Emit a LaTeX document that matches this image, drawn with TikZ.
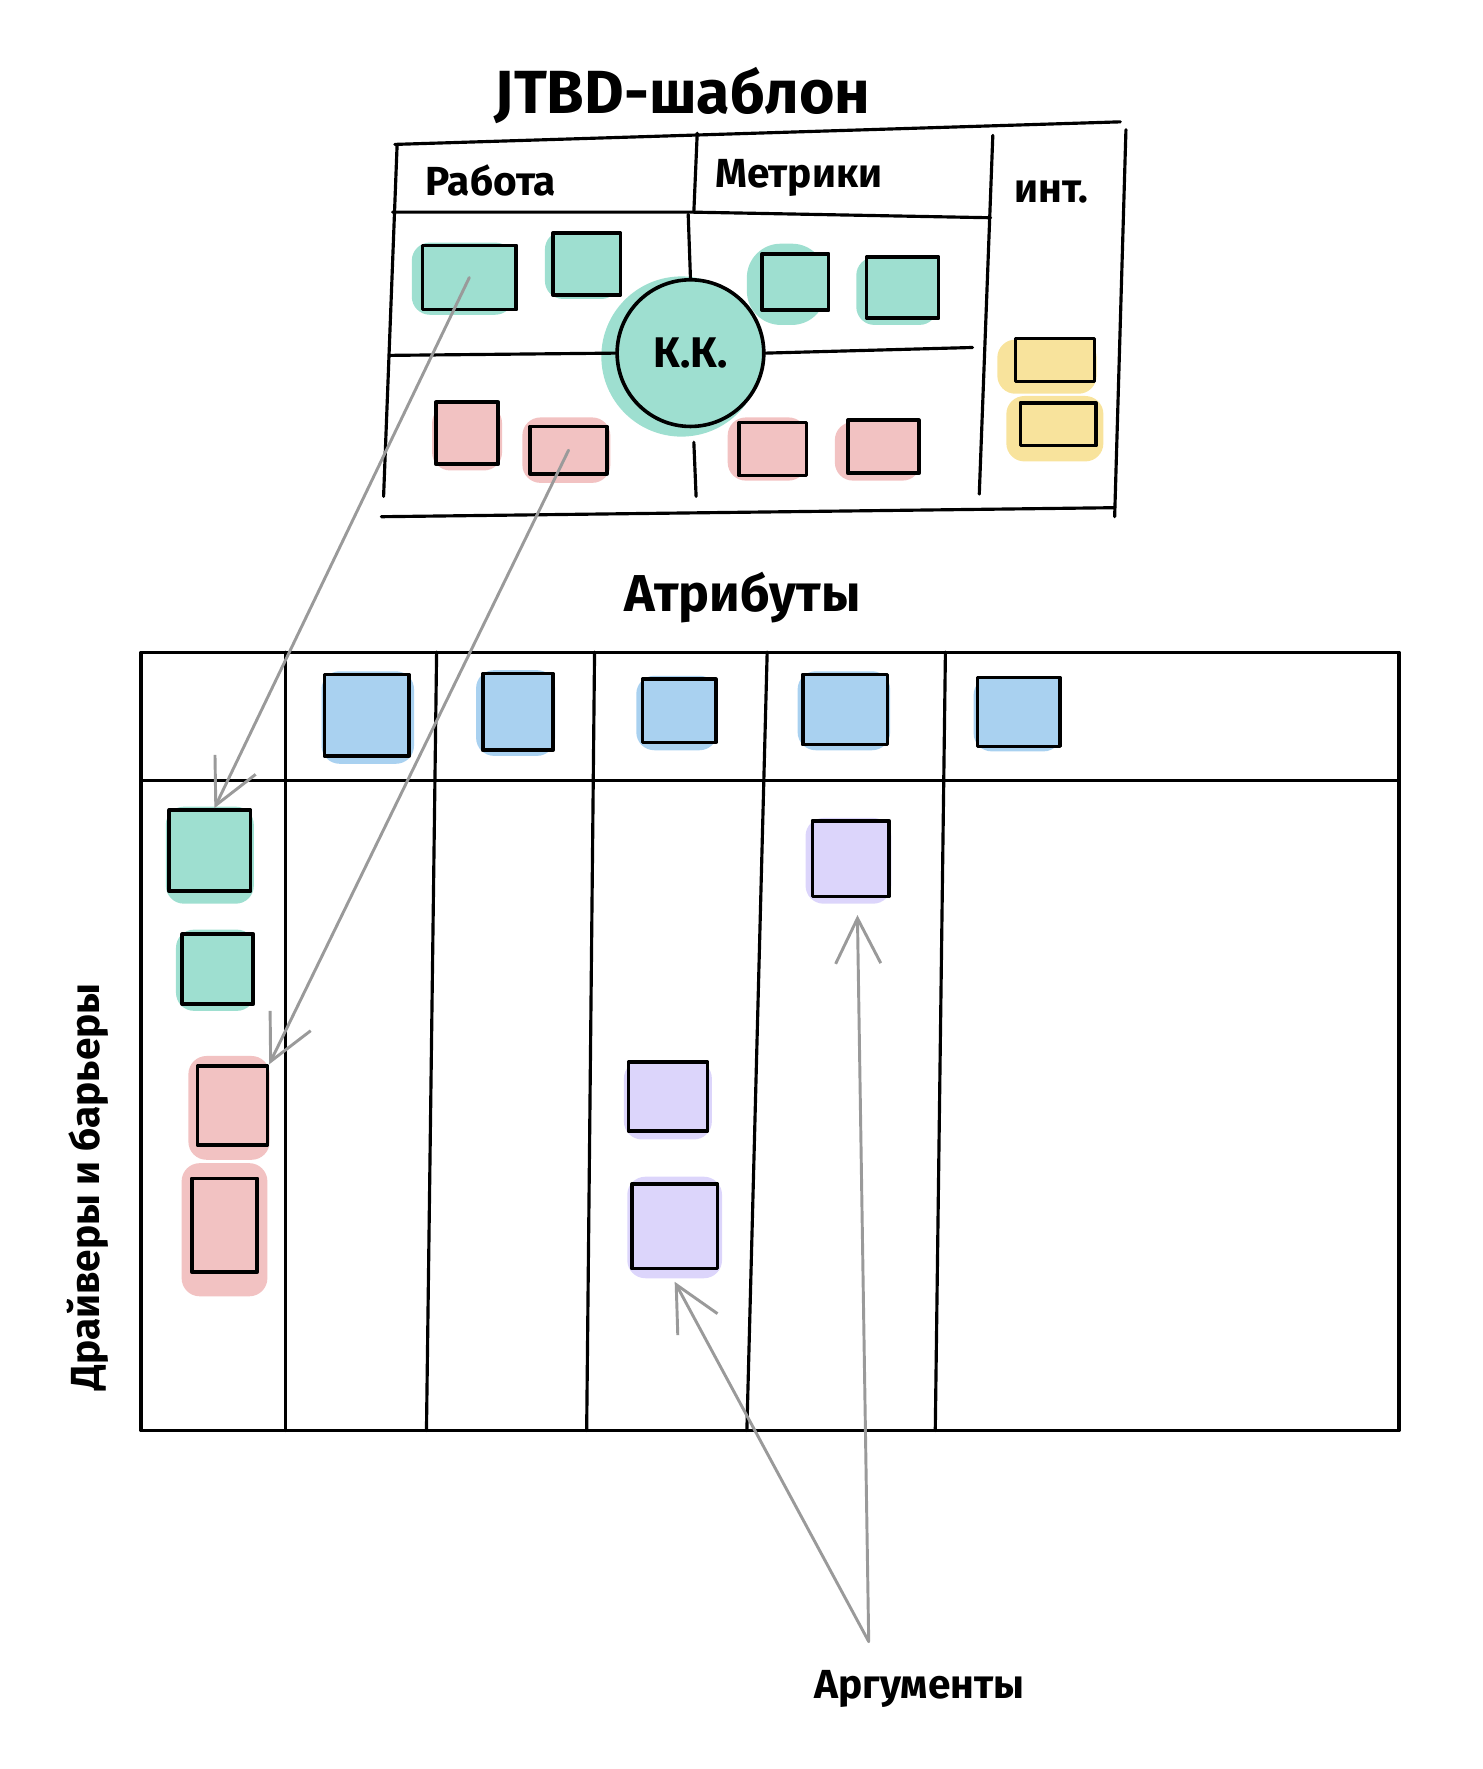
\documentclass[tikz,border=0pt]{standalone}
\usepackage{fontspec}
\setmainfont{Fira Sans}
\usetikzlibrary{arrows.meta}
\definecolor{jteal}{HTML}{9EDFD0}
\definecolor{jred}{HTML}{F2C2C2}
\definecolor{jblue}{HTML}{A9D1F0}
\definecolor{jviolet}{HTML}{DCD5FB}
\definecolor{jyellow}{HTML}{F8E39C}
\definecolor{jgray}{HTML}{9A9A9A}

\begin{document}
\begin{tikzpicture}[x=1pt,y=-1pt,line cap=round,line join=round]
\tikzstyle{blob}=[rounded corners=16pt,inner sep=0pt]
\tikzstyle{note}=[draw=black,line width=3.2pt,inner sep=0pt]
\tikzstyle{frame}=[line width=2.8pt]
\tikzstyle{pointer}=[draw=jgray,line width=2.6pt,-{Straight Barb[length=40pt,width=40pt]}]
\tikzstyle{hand}=[inner sep=0pt]
\useasboundingbox (0,0) rectangle (1314,1568);

\node[hand,font=\fontsize{54}{60}\bfseries] (title) at (605,85) {JTBD-шаблон};
\node[hand,font=\fontsize{36}{40}\bfseries] (job) at (435,160) {Работа};
\node[hand,font=\fontsize{36}{40}\bfseries] (metrics) at (708,158) {Метрики};
\node[hand,font=\fontsize{36}{40}\bfseries] (int) at (932,170) {инт.};

\draw[frame] (350,128) -- (993,108);
\draw[frame] (998,115) -- (988,458);
\draw[frame] (338,458) -- (988,450);
\draw[frame] (352,128) -- (340,440);
\draw[frame] (348,188) -- (612,188) -- (878,193);
\draw[frame] (618,118) -- (615,188);
\draw[frame] (880,120) -- (868,438);

\node[blob,fill=jteal,circle,minimum size=142] at (604,316) {};
\node[circle,draw,line width=3.2pt,fill=jteal,minimum size=130,
  font=\fontsize{38}{42}\bfseries] (kk) at (612,313) {К.К.};
\draw[frame] (345,315) -- (kk.west);
\draw[frame] (kk.east) -- (862,308);
\draw[frame] (610,190) -- (kk.north);
\draw[frame] (615,392) -- (617,440);

\node[blob,fill=jteal,minimum width=90,minimum height=64] at (410,247) {};
\node[note,fill=jteal,minimum width=83,minimum height=57] (w1) at (416,246) {};
\node[blob,fill=jteal,minimum width=66,minimum height=60] at (516,235) {};
\node[note,fill=jteal,minimum width=60,minimum height=55] (w2) at (520,234) {};
\node[blob,fill=jteal,minimum width=70,minimum height=72,rounded corners=30pt] at (697,252) {};
\node[note,fill=jteal,minimum width=59,minimum height=50] (m1) at (705,250) {};
\node[blob,fill=jteal,minimum width=72,minimum height=60] at (795,258) {};
\node[note,fill=jteal,minimum width=64,minimum height=54] (m2) at (800,255) {};

\node[blob,fill=jred,minimum width=62,minimum height=58] at (414,388) {};
\node[note,fill=jred,minimum width=55,minimum height=55] (r1) at (414,384) {};
\node[blob,fill=jred,minimum width=78,minimum height=58] at (502,399) {};
\node[note,fill=jred,minimum width=68,minimum height=42] (r2) at (504,399) {};
\node[blob,fill=jred,minimum width=70,minimum height=56] at (680,398) {};
\node[note,fill=jred,minimum width=60,minimum height=47] (r3) at (685,398) {};
\node[blob,fill=jred,minimum width=76,minimum height=52] at (778,400) {};
\node[note,fill=jred,minimum width=63,minimum height=47] (r4) at (783,396) {};

\node[blob,fill=jyellow,minimum width=88,minimum height=48] at (928,325) {};
\node[note,fill=jyellow,minimum width=70,minimum height=38] (y1) at (935,319) {};
\node[blob,fill=jyellow,minimum width=86,minimum height=58] at (935,380) {};
\node[note,fill=jyellow,minimum width=67,minimum height=38] (y2) at (938,376) {};

\node[hand,font=\fontsize{46}{52}\bfseries] (attrs) at (658,530) {Атрибуты};
\draw[frame] (125,578) rectangle (1240,1268);
\draw[frame] (125,692) -- (1240,692);
\draw[frame] (253,578) -- (253,1268);
\draw[frame] (387,578) -- (378,1268);
\draw[frame] (527,578) -- (520,1268);
\draw[frame] (680,578) -- (662,1268);
\draw[frame] (838,578) -- (829,1268);

\node[blob,fill=jblue,minimum width=82,minimum height=82] at (326,636) {};
\node[note,fill=jblue,minimum width=75,minimum height=72] (a1) at (325,634) {};
\node[blob,fill=jblue,minimum width=70,minimum height=76] at (457,632) {};
\node[note,fill=jblue,minimum width=62,minimum height=68] (a2) at (459,631) {};
\node[blob,fill=jblue,minimum width=72,minimum height=66] at (600,632) {};
\node[note,fill=jblue,minimum width=65,minimum height=56] (a3) at (602,630) {};
\node[blob,fill=jblue,minimum width=82,minimum height=70] at (748,630) {};
\node[note,fill=jblue,minimum width=75,minimum height=62] (a4) at (749,629) {};
\node[blob,fill=jblue,minimum width=78,minimum height=66] at (902,633) {};
\node[note,fill=jblue,minimum width=73,minimum height=61] (a5) at (903,631) {};

\node[blob,fill=jteal,minimum width=78,minimum height=86] at (186,758) {};
\node[note,fill=jteal,minimum width=72,minimum height=72] (d1) at (186,754) {};
\node[blob,fill=jteal,minimum width=70,minimum height=72] at (191,860) {};
\node[note,fill=jteal,minimum width=63,minimum height=62] (d2) at (193,859) {};
\node[blob,fill=jred,minimum width=72,minimum height=92] at (203,982) {};
\node[note,fill=jred,minimum width=62,minimum height=70] (b1) at (206,980) {};
\node[blob,fill=jred,minimum width=76,minimum height=118] at (199,1090) {};
\node[note,fill=jred,minimum width=58,minimum height=83] (b2) at (199,1086) {};

\node[blob,fill=jviolet,minimum width=76,minimum height=76] at (752,763) {};
\node[note,fill=jviolet,minimum width=68,minimum height=67] (p1) at (754,761) {};
\node[blob,fill=jviolet,minimum width=78,minimum height=70] at (592,975) {};
\node[note,fill=jviolet,minimum width=70,minimum height=61] (p2) at (592,972) {};
\node[blob,fill=jviolet,minimum width=84,minimum height=90] at (598,1088) {};
\node[note,fill=jviolet,minimum width=76,minimum height=75] (p3) at (598,1087) {};

\node[hand,rotate=90,font=\fontsize{36}{42}\bfseries] (drivers) at (78,1052) {Драйверы и барьеры};
\node[hand,font=\fontsize{36}{42}\bfseries] (args) at (815,1497) {Аргументы};
\coordinate (argtip) at (770,1455);

\draw[pointer] (w1.center) -- ([xshift=4pt]d1.north);
\draw[pointer] (r2.center) -- (b1.north east);
\draw[pointer] (argtip) -- ([xshift=6pt,yshift=-15pt]p1.south);
\draw[pointer] (argtip) -- ([yshift=-10pt]p3.south);
\end{tikzpicture}
\end{document}
